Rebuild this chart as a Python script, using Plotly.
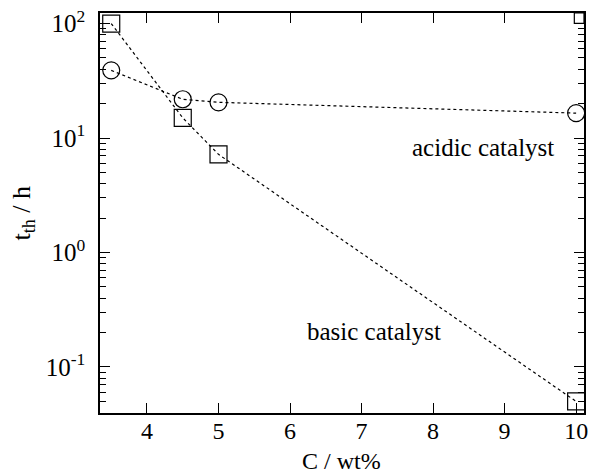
import plotly.graph_objects as go

# carbon content (wt%) and threshold time (h)
conc_basic = [3.5, 4.5, 5.0, 10.0]
time_basic = [100.0, 15.0, 7.2, 0.05]
conc_acidic = [3.5, 4.5, 5.0, 10.0]
time_acidic = [39.0, 21.8, 20.5, 16.5]

x_ticks = [4, 5, 6, 7, 8, 9, 10]
y_ticks = [0.1, 1, 10, 100]
y_ticklabels = ["10<sup>-1</sup>", "10<sup>0</sup>", "10<sup>1</sup>", "10<sup>2</sup>"]
y_minor = [m * d for d in [0.01, 0.1, 1, 10] for m in range(2, 10)]

FONT = "Liberation Serif, Times New Roman, serif"
BLACK = "black"

fig = go.Figure()
fig.add_trace(go.Scatter(
    x=conc_acidic, y=time_acidic, mode="lines+markers",
    line=dict(color=BLACK, width=1.2, dash="dot"),
    marker=dict(symbol="circle-open", size=17, color=BLACK, line=dict(width=1.2)),
    showlegend=False,
))
fig.add_trace(go.Scatter(
    x=conc_basic, y=time_basic, mode="lines+markers",
    line=dict(color=BLACK, width=1.2, dash="dot"),
    marker=dict(symbol="square-open", size=17, color=BLACK, line=dict(width=1.2)),
    showlegend=False,
))

# series labels inside the plot
fig.add_annotation(x=8.70, y=0.913, xref="x", yref="y", yanchor="middle",
                   text="acidic catalyst", showarrow=False,
                   font=dict(family=FONT, size=25, color=BLACK))
fig.add_annotation(x=7.17, y=-0.694, xref="x", yref="y", yanchor="middle",
                   text="basic catalyst", showarrow=False,
                   font=dict(family=FONT, size=25, color=BLACK))

# axis titles
fig.add_annotation(x=0.498, y=-0.12, xref="paper", yref="paper",
                   xanchor="center", yanchor="middle", text="C / wt%",
                   showarrow=False, font=dict(family=FONT, size=24, color=BLACK))
fig.add_annotation(x=-0.16, y=0.5, xref="paper", yref="paper",
                   xanchor="center", yanchor="middle", textangle=-90,
                   text="t<sub>th</sub> / h", showarrow=False,
                   font=dict(family=FONT, size=26, color=BLACK))

# small box at the upper right corner of the frame
fig.add_shape(type="rect", xref="paper", yref="paper",
              x0=0.980, x1=1.0, y0=0.974, y1=1.0,
              line=dict(color=BLACK, width=1.2), fillcolor="white")

fig.update_xaxes(
    range=[3.343, 10.11], tickvals=x_ticks, ticks="inside", ticklen=10,
    tickwidth=1.2, tickcolor=BLACK, showline=True, linecolor=BLACK,
    linewidth=1.5, mirror="allticks", showgrid=False, zeroline=False,
    automargin=False, ticklabelstandoff=-5,
    tickfont=dict(family=FONT, size=24, color=BLACK),
)
fig.update_yaxes(
    type="log", range=[-1.402, 2.092], tickvals=y_ticks, ticktext=y_ticklabels,
    ticks="inside", ticklen=10, tickwidth=1.2, tickcolor=BLACK,
    minor=dict(tickvals=y_minor, ticks="inside", ticklen=6, tickwidth=1.2, tickcolor=BLACK),
    showline=True, linecolor=BLACK, linewidth=1.5, mirror="allticks",
    showgrid=False, zeroline=False, automargin=False, ticklabelstandoff=8,
    tickfont=dict(family=FONT, size=25, color=BLACK),
)

fig.update_layout(
    width=592, height=475,
    margin=dict(l=100, r=8, t=13, b=62),
    paper_bgcolor="white", plot_bgcolor="white",
)

fig.write_html("out.html")
